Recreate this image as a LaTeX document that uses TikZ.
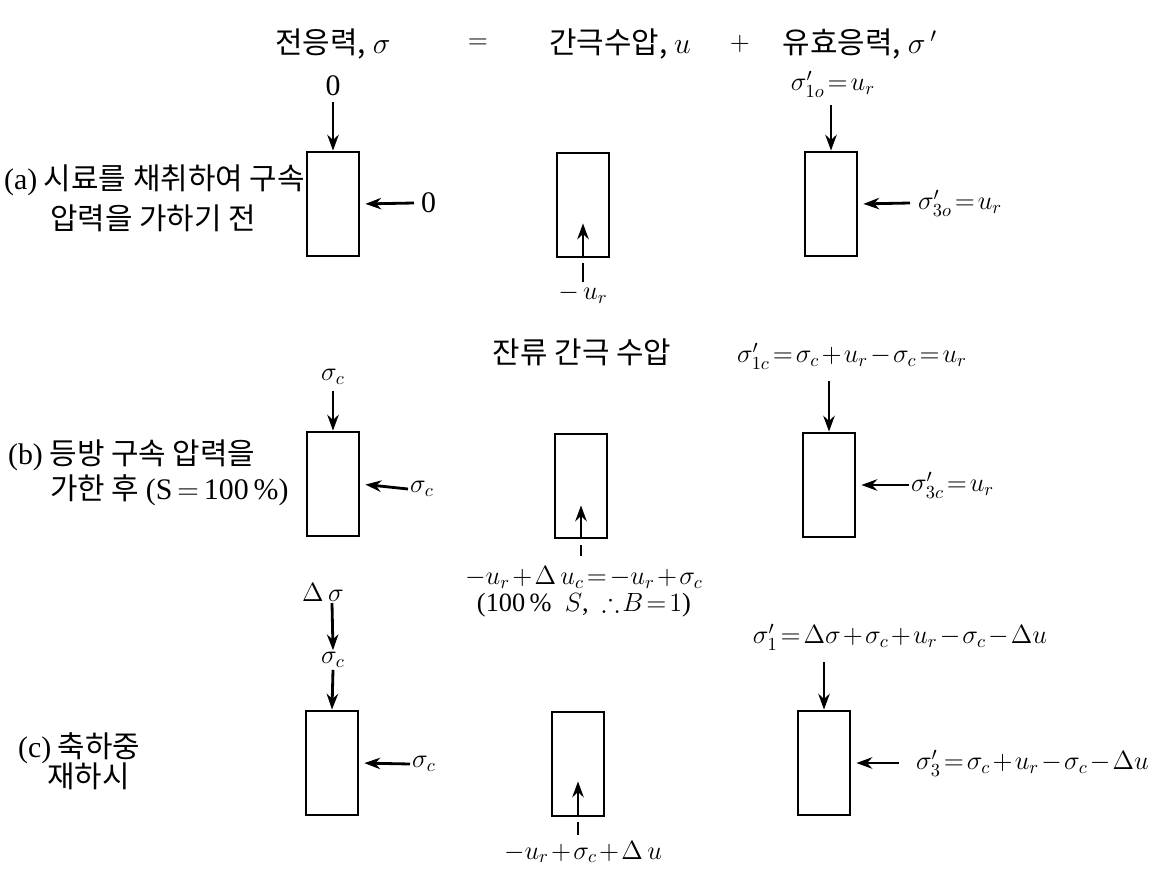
\RequirePackage{fix-cm}
\documentclass[tikz,border=0pt]{standalone}
\usepackage{fontspec}
\usepackage{amsmath,amssymb}
\setmainfont{Liberation Serif}
\newfontfamily\kr{Noto Sans CJK KR}
\usetikzlibrary{arrows.meta}

\newcommand{\tightmath}{\thickmuskip=2mu plus 1mu\medmuskip=1.5mu plus 1mu}
\newcommand{\rr}[1]{{\rmfamily #1}}

\tikzset{
  specimen/.style={draw, line width=1.6pt, minimum width=1.04cm, minimum height=2.08cm, inner sep=0pt},
  load/.style={line width=1.6pt, -{Stealth[length=9pt,width=6.5pt]}},
  stub/.style={line width=1.6pt},
  lbl/.style={inner sep=1pt, font=\fontsize{15}{15.5}\selectfont\tightmath},
  klbl/.style={inner sep=1pt, font=\fontsize{17}{20}\selectfont\kr\tightmath}
}

\begin{document}
\begin{tikzpicture}[x=0.02cm, y=-0.02cm]
	\useasboundingbox (0,0) rectangle (1150,872);

	% column heads
	\node[klbl] (hT) at (333,44) {전응력, $\sigma$};
	\node[lbl] (hEq) at (478,44) {$=$};
	\node[klbl] (hU) at (620,44) {간극수압, $u$};
	\node[lbl] (hPl) at (740,44) {$+$};
	\node[klbl] (hE) at (860,44) {유효응력, $\sigma\,'$};

	% row labels
	\node[klbl, anchor=west] (rA1) at (2,180) {\rr{(a)} 시료를 채취하여 구속};
	\node[klbl, anchor=west] (rA2) at (48,218) {압력을 가하기 전};
	\node[klbl, anchor=west] (rB1) at (6,455) {\rr{(b)} 등방 구속 압력을};
	\node[klbl, anchor=west] (rB2) at (48,490) {가한 후 \rr{(S$\,=\,$100\,\%)}};
	\node[klbl, anchor=west] (rC1) at (16,748) {\rr{(c)} 축하중};
	\node[klbl, anchor=west] (rC2) at (45,776) {재하시};

	% specimens
	\node[specimen] (Ta) at (333,204) {};
	\node[specimen] (Ua) at (583,205) {};
	\node[specimen] (Ea) at (831,204) {};
	\node[specimen] (Tb) at (333,484) {};
	\node[specimen] (Ub) at (581,486) {};
	\node[specimen] (Eb) at (829,485) {};
	\node[specimen] (Tc) at (332,763) {};
	\node[specimen] (Uc) at (578,764) {};
	\node[specimen] (Ec) at (824,763) {};

	%% (a) before confining
	\node[lbl] (lTa1) at (333,86) {\fontsize{17}{17}\selectfont 0};
	\draw[load] ([yshift=-0.08cm]lTa1.south) -- (Ta.north);
	\node[lbl, anchor=west] (lTa3) at (419,203) {\fontsize{17}{17}\selectfont 0};
	\draw[load, shorten >=0.1cm] ([xshift=-0.1cm]lTa3.west) -- (Ta.east);
	\node[lbl] (lUa) at (583,294) {$-\,u_r$};
	\coordinate (pUa) at (583,263);
	\draw[stub] (pUa) -- (lUa.north);
	\draw[load] (Ua.south) -- ++(0,-35);
	\node[lbl] (lEa1) at (833,84) {$\sigma'_{1o}=u_r$};
	\draw[load] ([yshift=-0.12cm]Ea.north |- lEa1.south) -- (Ea.north);
	\node[lbl, anchor=west] (lEa3) at (916,203) {$\sigma'_{3o}=u_r$};
	\draw[load, shorten >=0.1cm] ([xshift=-0.12cm]lEa3.west) -- (Ea.east);

	%% (b) isotropic confining
	\node[lbl] (lTb1) at (333,377) {$\sigma_c$};
	\draw[load] ([yshift=-0.08cm]lTb1.south) -- (Tb.north);
	\node[lbl, anchor=west] (lTb3) at (408,489) {$\sigma_c$};
	\draw[load, shorten >=0.1cm] (lTb3.west) -- (Tb.east);
	\node[klbl] (res) at (582,352) {잔류 간극 수압};
	\node[lbl, align=center] (lUb) at (584,592)
		{$-u_r+\Delta\,u_c=-u_r+\sigma_c$\\ (100\,\% \ $S$, \ $\therefore B=1$)};
	\coordinate (pUb) at (581,545);
	\draw[stub] (pUb) -- ++(0,11);
	\draw[load] (Ub.south) -- ++(0,-34);
	\node[lbl] (lEb1) at (852,356) {$\sigma'_{1c}=\sigma_c+u_r-\sigma_c=u_r$};
	\draw[load] ([yshift=-0.2cm]Eb.north |- lEb1.south) -- (Eb.north);
	\node[lbl, anchor=west] (lEb3) at (909,485) {$\sigma'_{3c}=u_r$};
	\draw[load, shorten >=0.1cm] (lEb3.west) -- (Eb.east);

	%% (c) axial loading
	\node[lbl] (lDs) at (323,592) {$\Delta\,\sigma$};
	\node[lbl] (lTc1) at (333,660) {$\sigma_c$};
	\draw[load] (Tc.north |- lDs.south) -- (lTc1.north);
	\draw[load] (lTc1.south) -- (Tc.north);
	\node[lbl, anchor=west] (lTc3) at (410,764) {$\sigma_c$};
	\draw[load, shorten >=0.1cm] (lTc3.west) -- (Tc.east);
	\node[lbl] (lUc) at (583,852) {$-u_r+\sigma_c+\Delta\,u$};
	\coordinate (pUc) at (578,822);
	\draw[stub] (pUc) -- ++(0,13);
	\draw[load] (Uc.south) -- ++(0,-36);
	\node[lbl] (lEc1) at (900,637) {$\sigma'_1=\Delta\sigma+\sigma_c+u_r-\sigma_c-\Delta u$};
	\draw[load] ([yshift=-0.2cm]Ec.north |- lEc1.south) -- (Ec.north);
	\node[lbl, anchor=west] (lEc3) at (914,763) {$\sigma'_3=\sigma_c+u_r-\sigma_c-\Delta u$};
	\draw[load, shorten >=0.1cm] ([xshift=-0.3cm]lEc3.west) -- (Ec.east);
\end{tikzpicture}
\end{document}
